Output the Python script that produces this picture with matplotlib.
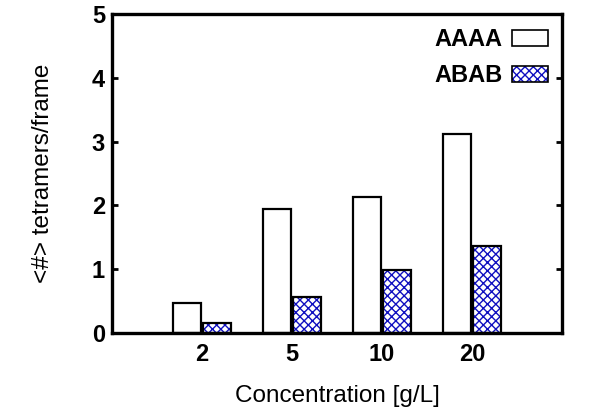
import matplotlib
matplotlib.use("Agg")
import matplotlib.pyplot as plt
from matplotlib.patches import Patch
import numpy as np

categories = ["2", "5", "10", "20"]
aaaa = [0.47, 1.94, 2.13, 3.12]
abab = [0.16, 0.57, 0.99, 1.37]

plt.rcParams['font.family'] = ['Liberation Sans', 'DejaVu Sans']
fig = plt.figure(figsize=(6, 4.2), dpi=100)
ax = fig.add_axes([0.1867, 0.207, 0.75, 0.7595])

x = np.arange(1, len(categories) + 1)
w = 0.31
gap = 0.011
ax.bar(x - w / 2 - gap, aaaa, w, color='white', edgecolor='black', linewidth=1.6, zorder=2)
ax.bar(x + w / 2 + gap, abab, w, color='white', edgecolor='#1010c0', hatch='xxxx', linewidth=0, zorder=2)
ax.bar(x + w / 2 + gap, abab, w, fill=False, edgecolor='black', linewidth=1.6, zorder=3)

h1 = Patch(facecolor='white', edgecolor='black', linewidth=1.2)
h2 = Patch(facecolor='white', edgecolor='#1010c0', hatch='xxxx', linewidth=0)
h2b = Patch(fill=False, edgecolor='black', linewidth=1.2)
leg = ax.legend([h1, (h2, h2b)], ['AAAA', 'ABAB'], loc='upper right', frameon=False,
                markerfirst=False, prop={'weight': 'bold', 'size': 17},
                handlelength=1.52, handleheight=0.68, labelspacing=0.55,
                borderaxespad=0.2, borderpad=0.4, handletextpad=0.4)

ax.set_xlim(0, 5)
ax.set_ylim(0, 5)
ax.set_xticks(x)
ax.set_xticklabels(categories, fontweight='bold', fontsize=17)
ax.set_yticks(range(6))
ax.set_yticklabels([str(i) for i in range(6)], fontweight='bold', fontsize=17)
ax.tick_params(axis='y', direction='in', length=4, width=2, right=True, pad=5)
ax.tick_params(axis='x', direction='in', length=4, width=2, pad=7)
for s in ax.spines.values():
    s.set_linewidth(2.4)

ax.set_xlabel('Concentration [g/L]', fontsize=17.5, labelpad=14)
ax.set_ylabel('<#> tetramers/frame', fontsize=17.5, labelpad=27)

fig.savefig('out.png', dpi=100)
